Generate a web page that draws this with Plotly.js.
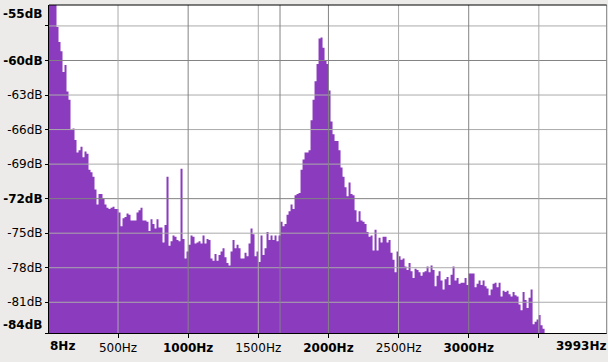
<!DOCTYPE html>
<html>
<head>
<meta charset="utf-8">
<script src="https://cdn.plot.ly/plotly-3.0.1.min.js"></script>
<style>
html,body{margin:0;padding:0;background:#ECEBEA;}
#chart{width:608px;height:362px;}
</style>
</head>
<body>
<div id="chart"></div>
<script>
// Spectrum level (dB) per FFT bin
const binStartHz = 4.4;
const binWidthHz = 14.26;
const levelsDb = [
 -54.5,-54.5,-54.5,-54.5,-57.1,-58.4,-59.2,-61.0,-60.4,-62.7,
 -63.4,-66.0,-65.9,-66.9,-68.0,-67.8,-67.5,-68.4,-67.9,-68.1,
 -69.5,-69.7,-70.1,-71.2,-72.5,-71.6,-71.6,-72.0,-72.5,-72.8,
 -72.9,-72.8,-72.7,-72.9,-72.9,-73.2,-74.4,-73.7,-73.6,-73.3,
 -73.4,-73.9,-73.9,-73.9,-73.2,-73.0,-72.8,-73.9,-73.9,-74.0,
 -74.8,-73.8,-74.2,-74.6,-73.8,-74.5,-74.5,-75.8,-74.3,-70.1,
 -76.1,-75.7,-75.2,-75.3,-75.6,-75.7,-69.4,-75.5,-77.2,-76.6,
 -76.0,-75.2,-75.3,-75.9,-75.8,-75.7,-75.9,-75.2,-75.9,-75.5,
 -75.6,-77.2,-77.4,-76.8,-77.4,-76.9,-76.6,-76.3,-77.1,-77.6,
 -77.8,-76.6,-75.6,-76.3,-76.0,-76.3,-77.2,-77.2,-76.7,-77.0,
 -75.9,-74.6,-75.1,-77.0,-76.6,-77.5,-75.2,-76.9,-76.3,-74.9,
 -75.6,-75.2,-75.6,-75.2,-75.7,-75.2,-74.0,-74.4,-74.2,-73.4,
 -73.1,-72.5,-72.9,-71.7,-71.6,-71.5,-69.5,-68.6,-68.0,-68.0,
 -67.8,-65.2,-63.4,-61.8,-60.3,-58.1,-58.0,-58.9,-60.0,-60.3,
 -62.6,-65.3,-66.4,-67.0,-67.0,-67.8,-69.3,-70.1,-71.0,-71.8,
 -70.6,-71.6,-71.7,-73.0,-74.0,-73.1,-73.9,-74.0,-74.2,-74.9,
 -75.3,-75.2,-76.5,-74.7,-76.5,-75.4,-75.8,-75.3,-75.3,-75.8,
 -75.6,-76.7,-77.3,-78.4,-76.6,-77.0,-77.3,-77.2,-77.9,-78.2,
 -77.6,-78.3,-78.9,-78.1,-78.2,-78.4,-78.7,-78.4,-78.3,-77.9,
 -78.4,-77.8,-78.2,-79.6,-78.7,-78.3,-79.1,-79.9,-79.0,-78.8,
 -79.5,-78.6,-77.9,-79.1,-78.9,-79.4,-79.3,-79.3,-78.9,-79.5,
 -78.5,-78.5,-78.5,-79.7,-79.4,-79.1,-79.5,-79.1,-79.6,-79.8,
 -80.4,-79.9,-79.4,-79.3,-79.7,-79.3,-80.5,-80.0,-80.1,-80.0,
 -80.3,-80.5,-80.1,-80.4,-80.5,-81.2,-81.7,-80.1,-80.8,-81.5,
 -80.6,-79.9,-82.9,-82.7,-82.5,-82.1,-83.0,-83.3
];

// Axes
const freqMin = 8, freqMax = 3993;
const dbMin = -83.67, dbMax = -55.18;
const yTickVals = [-57,-60,-63,-66,-69,-72,-75,-78,-81];
const yTickText = ['', '<b>-60dB</b>', '-63dB', '-66dB', '-69dB', '<b>-72dB</b>', '-75dB', '-78dB', '-81dB'];
const yMajor = [-60,-72];
const xTickVals = [500,1000,1500,2000,2500,3000,3500];
const xTickText = ['500Hz','<b>1000Hz</b>','1500Hz','<b>2000Hz</b>','2500Hz','<b>3000Hz</b>',''];
const xMajor = [1000,2000,3000];
const cursorHz = 1655;

const purple = '#8A3BBE';
const bg = '#ECEBEA';
const gridLight = '#AAAAAA';
const gridDark = '#838383';

const edges = levelsDb.map((_, i) => binStartHz + i * binWidthHz);
const lastEdge = binStartHz + levelsDb.length * binWidthHz;
const stepX = edges.concat([lastEdge]);
const stepY = levelsDb.concat([levelsDb[levelsDb.length - 1]]);

const traces = [
  {x: [binStartHz, lastEdge], y: [-90, -90], mode: 'lines', line: {width: 0}, hoverinfo: 'skip', showlegend: false},
  {x: stepX, y: stepY, mode: 'lines', line: {width: 0, shape: 'hv', color: purple}, fill: 'tonexty', fillcolor: purple, hoverinfo: 'skip', showlegend: false}
];

const shapes = [];
yTickVals.forEach(v => shapes.push({type: 'line', xref: 'paper', yref: 'y', x0: 0, x1: 1, y0: v, y1: v,
  line: {color: yMajor.includes(v) ? gridDark : gridLight, width: 1}, layer: 'above'}));
xTickVals.forEach(v => shapes.push({type: 'line', xref: 'x', yref: 'paper', x0: v, x1: v, y0: 0, y1: 1,
  line: {color: xMajor.includes(v) ? gridDark : gridLight, width: 1}, layer: 'above'}));
shapes.push({type: 'line', xref: 'x', yref: 'paper', x0: cursorHz, x1: cursorHz, y0: 0, y1: 1, line: {color: gridDark, width: 1}, layer: 'above'});
// right-hand strip outside frame and frame borders
shapes.push({type: 'rect', xref: 'x', yref: 'paper', x0: 3984, x1: 4010, y0: -0.01, y1: 1.02, fillcolor: bg, line: {width: 0}, layer: 'above'});
shapes.push({type: 'line', xref: 'x', yref: 'paper', x0: 3983, x1: 3983, y0: 0, y1: 1, line: {color: '#8A8A8A', width: 1}, layer: 'above'});
shapes.push({type: 'line', xref: 'paper', yref: 'paper', x0: 0, x1: 0.9976, y0: 1, y1: 1, line: {color: '#000', width: 1}, layer: 'above'});

const font = {family: 'DejaVu Sans', size: 12, color: '#000'};

const layout = {
  width: 608, height: 362,
  margin: {l: 49, r: 0, t: 5, b: 29},
  paper_bgcolor: bg, plot_bgcolor: '#FFFFFF',
  font: font,
  showlegend: false,
  xaxis: {range: [freqMin, freqMax], showgrid: false, zeroline: false,
    tickvals: xTickVals, ticktext: xTickText, ticks: 'outside', ticklen: 4, tickcolor: '#000',
    showline: true, linecolor: '#000', linewidth: 1, tickfont: font, fixedrange: true},
  yaxis: {range: [dbMin, dbMax], showgrid: false, zeroline: false,
    tickvals: yTickVals.concat([dbMin]), ticktext: yTickText.concat(['']), ticks: 'outside', ticklen: 3, tickcolor: '#000',
    showline: true, linecolor: '#000', linewidth: 1, tickfont: font, fixedrange: true},
  shapes: shapes,
  annotations: [
    {text: '<b>-55dB</b>', xref: 'paper', yref: 'paper', x: 0, y: 1, xanchor: 'right', yanchor: 'middle', xshift: -5, yshift: -9, showarrow: false, font: font},
    {text: '<b>-84dB</b>', xref: 'paper', yref: 'paper', x: 0, y: 0, xanchor: 'right', yanchor: 'middle', xshift: -5, yshift: 8, showarrow: false, font: font},
    {text: '<b>8Hz</b>', xref: 'paper', yref: 'paper', x: 0, y: 0, xanchor: 'left', yanchor: 'middle', xshift: -1, yshift: -13, showarrow: false, font: font},
    {text: '<b>3993Hz</b>', xref: 'paper', yref: 'paper', x: 1, y: 0, xanchor: 'right', yanchor: 'middle', xshift: 0, yshift: -13, showarrow: false, font: font}
  ]
};

Plotly.newPlot('chart', traces, layout, {displayModeBar: false, staticPlot: true});
</script>
</body>
</html>
